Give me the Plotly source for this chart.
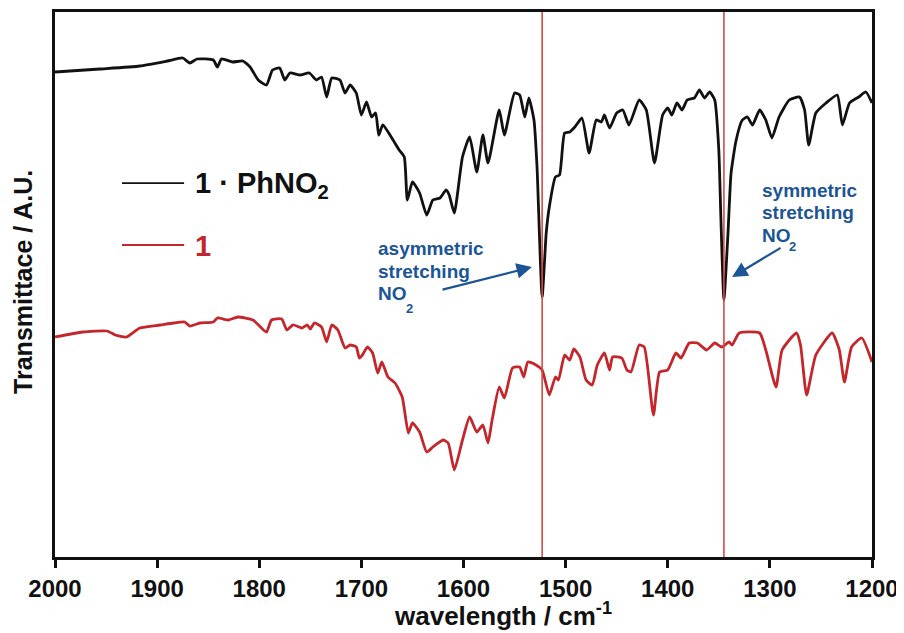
import plotly.graph_objects as go

# ---- data (wavenumber in cm^-1, transmittance in arbitrary units) ----
wn_complex = [2000, 1956, 1917, 1890, 1875, 1868, 1861, 1845, 1841, 1837,
              1826, 1816, 1809, 1801, 1793, 1787, 1780, 1775, 1770, 1760,
              1751, 1744, 1739, 1734, 1729, 1721, 1716, 1711, 1705, 1700,
              1695, 1690, 1686, 1683, 1679, 1669, 1663, 1658, 1655, 1650,
              1643, 1636, 1630, 1623, 1617, 1614, 1609, 1601, 1594, 1587,
              1581, 1576, 1565, 1560, 1550, 1545, 1540, 1536, 1531, 1528,
              1523, 1519, 1516, 1510, 1506, 1501, 1496, 1491, 1484, 1477,
              1470, 1465, 1462, 1457, 1450, 1444, 1438, 1428, 1421, 1413,
              1405, 1400, 1396, 1391, 1386, 1381, 1374, 1369, 1364, 1359,
              1354, 1350, 1348, 1345, 1341, 1338, 1333, 1327, 1322, 1317,
              1310, 1304, 1298, 1291, 1281, 1271, 1266, 1262, 1255, 1245,
              1234, 1229, 1222, 1213, 1206, 1200]
t_complex = [485, 488, 491, 496, 499, 494, 498, 497, 490, 498,
             495, 496, 490, 477, 472, 487, 489, 477, 484, 482,
             484, 477, 480, 460, 479, 477, 464, 472, 464, 442,
             455, 440, 444, 422, 432, 417, 407, 400, 357, 375,
             364, 342, 357, 359, 367, 362, 344, 400, 420, 385,
             422, 394, 447, 422, 464, 462, 440, 459, 437, 390,
             260, 324, 350, 380, 382, 424, 425, 430, 439, 404,
             437, 435, 442, 429, 444, 447, 432, 457, 447, 394,
             442, 449, 442, 454, 447, 457, 459, 467, 459, 465,
             457, 407, 340, 257, 324, 384, 417, 437, 440, 432,
             447, 437, 419, 440, 457, 460, 447, 412, 444, 454,
             462, 432, 454, 460, 465, 454]

wn_host = [2000, 1973, 1949, 1941, 1930, 1917, 1897, 1884, 1873, 1868,
           1858, 1845, 1841, 1830, 1821, 1806, 1793, 1788, 1778, 1773,
           1767, 1758, 1753, 1750, 1746, 1739, 1734, 1729, 1723, 1716,
           1711, 1705, 1702, 1699, 1694, 1689, 1684, 1680, 1674, 1667,
           1660, 1654, 1650, 1643, 1636, 1630, 1620, 1615, 1609, 1601,
           1594, 1587, 1581, 1576, 1572, 1565, 1560, 1552, 1545, 1541,
           1537, 1529, 1523, 1516, 1510, 1507, 1501, 1496, 1492, 1486,
           1480, 1474, 1469, 1462, 1457, 1454, 1445, 1440, 1436, 1428,
           1423, 1414, 1408, 1400, 1392, 1387, 1379, 1371, 1362, 1354,
           1347, 1340, 1337, 1330, 1310, 1304, 1294, 1288, 1274, 1270,
           1264, 1255, 1239, 1232, 1227, 1220, 1210, 1200]
t_host = [220, 225, 226, 222, 220, 229, 232, 234, 235, 231,
          234, 235, 239, 237, 240, 237, 225, 237, 238, 227,
          232, 229, 232, 228, 234, 230, 215, 232, 227, 209,
          212, 210, 199, 202, 210, 204, 184, 195, 180, 174,
          160, 124, 134, 125, 105, 110, 117, 114, 87, 117,
          140, 125, 132, 114, 137, 170, 159, 189, 190, 180,
          195, 192, 187, 162, 180, 177, 202, 197, 208, 200,
          177, 172, 192, 204, 187, 200, 199, 187, 185, 212,
          210, 142, 185, 187, 204, 199, 214, 214, 207, 214,
          210, 215, 212, 224, 224, 207, 170, 207, 224, 212,
          162, 202, 224, 207, 175, 210, 219, 195]

band_positions = [1523, 1345]
x_ticks = [2000, 1900, 1800, 1700, 1600, 1500, 1400, 1300, 1200]

FONT = "Liberation Sans, Arial, sans-serif"
BLACK = "#111111"
RED = "#c4262c"
VLINE = "#d34a4a"
BLUE = "#1b5597"

fig = go.Figure()
fig.add_trace(go.Scatter(x=wn_host, y=t_host, mode="lines",
                         line=dict(color=RED, width=2.8, shape="spline", smoothing=0.5),
                         name="1", showlegend=False))
fig.add_trace(go.Scatter(x=wn_complex, y=t_complex, mode="lines",
                         line=dict(color=BLACK, width=2.8, shape="spline", smoothing=0.5),
                         name="1 · PhNO2", showlegend=False))

for b in band_positions:
    fig.add_shape(type="line", xref="x", yref="paper", x0=b, x1=b, y0=0, y1=1,
                  line=dict(color=VLINE, width=1.6), layer="above")

# legend drawn manually
fig.add_shape(type="line", xref="paper", yref="paper", x0=0.082, x1=0.158, y0=0.686, y1=0.686,
              line=dict(color=BLACK, width=1.8))
fig.add_shape(type="line", xref="paper", yref="paper", x0=0.082, x1=0.158, y0=0.5725, y1=0.5725,
              line=dict(color=RED, width=1.8))
fig.add_annotation(xref="paper", yref="paper", x=0.169, y=0.683, xanchor="left", yanchor="middle",
                   text="1 · PhNO<sub>2</sub>", showarrow=False,
                   font=dict(family=FONT, size=29, color=BLACK, weight="bold"))
fig.add_annotation(xref="paper", yref="paper", x=0.169, y=0.5706, xanchor="left", yanchor="middle",
                   text="1", showarrow=False,
                   font=dict(family=FONT, size=29, color=RED, weight="bold"))

# band labels
bfont = dict(family=FONT, size=19, color=BLUE, weight="bold")
sfont = dict(family=FONT, size=13, color=BLUE, weight="bold")
for txt, y in [("asymmetric", 309), ("stretching", 286), ("NO", 264)]:
    fig.add_annotation(x=1686, y=y, xanchor="left", yanchor="middle", text=txt,
                       showarrow=False, font=bfont)
fig.add_annotation(x=1658, y=249, xanchor="left", yanchor="middle", text="2",
                   showarrow=False, font=sfont)
for txt, y in [("symmetric", 367), ("stretching", 345), ("NO", 322)]:
    fig.add_annotation(x=1310, y=y, xanchor="left", yanchor="middle", text=txt,
                       showarrow=False, font=bfont)
fig.add_annotation(x=1283, y=311, xanchor="left", yanchor="middle", text="2",
                   showarrow=False, font=sfont)

# arrows
fig.add_annotation(x=1533, y=290, ax=1622, ay=267, axref="x", ayref="y", text="",
                   showarrow=True, arrowhead=2, arrowsize=1.4, arrowwidth=2.2, arrowcolor=BLUE)
fig.add_annotation(x=1337, y=280, ax=1288, ay=310, axref="x", ayref="y", text="",
                   showarrow=True, arrowhead=2, arrowsize=1.4, arrowwidth=2.2, arrowcolor=BLUE)

# axis titles
fig.add_annotation(xref="paper", yref="paper", x=0.4125, y=-0.106, xanchor="left", yanchor="middle",
                   text="wavelength / cm<sup>-1</sup>", showarrow=False,
                   font=dict(family=FONT, size=26, color=BLACK, weight="bold"))
fig.add_annotation(xref="paper", yref="paper", x=-0.039, y=0.505, xanchor="center", yanchor="middle",
                   textangle=-90, text="Transmittace / A.U.", showarrow=False,
                   font=dict(family=FONT, size=25, color=BLACK, weight="bold"))

fig.update_xaxes(range=[2000, 1200], tickvals=x_ticks, ticktext=[str(v) for v in x_ticks],
                 ticks="outside", ticklen=8, tickwidth=2.5, tickcolor=BLACK,
                 showline=True, linewidth=2.5, linecolor=BLACK, mirror=True,
                 showgrid=False, zeroline=False, automargin=False,
                 tickfont=dict(family=FONT, size=24, color=BLACK, weight="bold"))
fig.update_yaxes(range=[0, 545], showticklabels=False, ticks="",
                 showline=True, linewidth=2.5, linecolor=BLACK, mirror=True,
                 showgrid=False, zeroline=False, automargin=False)

# page body adds an 8px offset, so the figure is sized/margined to compensate
fig.update_layout(width=896, height=625, margin=dict(l=47, r=32, t=4, b=76),
                  plot_bgcolor="white", paper_bgcolor="white", showlegend=False)

fig.write_html("out.html")
